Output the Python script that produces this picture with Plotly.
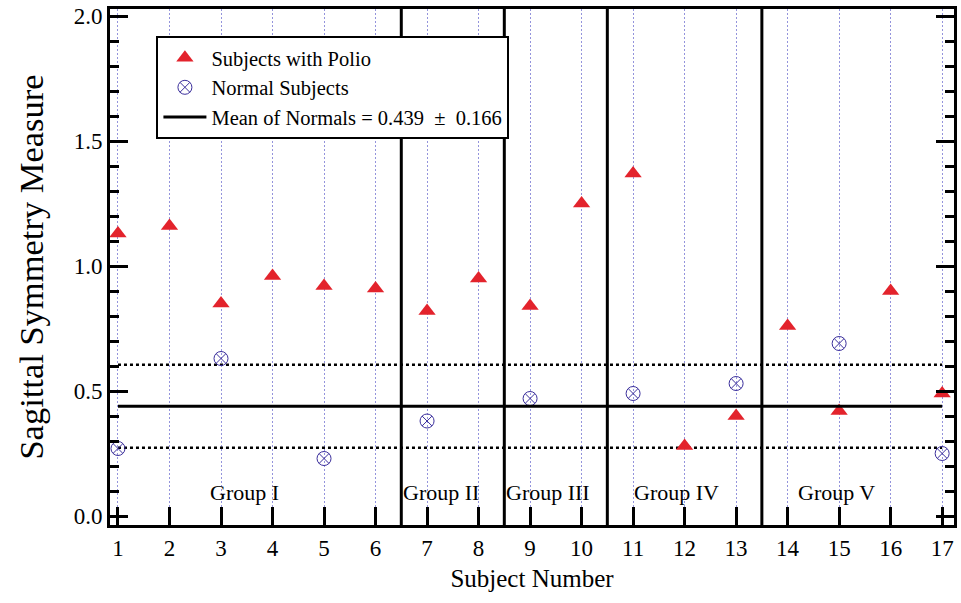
import plotly.graph_objects as go

subjects = list(range(1, 18))
polio = [1.13, 1.16, 0.85, 0.96, 0.92, 0.91, 0.82, 0.95, 0.84, 1.25, 1.37, 0.28, 0.40, 0.76, 0.42, 0.90, 0.49]
normal_subjects = [1, 3, 5, 7, 9, 11, 13, 15, 17]
normal_vals = [0.27, 0.63, 0.23, 0.38, 0.47, 0.49, 0.53, 0.69, 0.25]
mean_normals = 0.439
sd_normals = 0.166
group_bounds = [6.5, 8.5, 10.5, 13.5]
group_names = ["Group I", "Group II", "Group III", "Group IV", "Group V"]
group_label_x = [3.45, 7.27, 9.34, 11.85, 14.95]
group_label_y = 0.095
y_major = [0, 0.5, 1.0, 1.5, 2.0]
y_major_text = ["0.0", "0.5", "1.0", "1.5", "2.0"]
y_minor = [i / 10 for i in range(21) if i % 5]

FONT = "Liberation Serif"
RED = "#e3232c"
BLUE = "#3b2f9c"

fig = go.Figure()

# group separators
for gb in group_bounds:
    fig.add_shape(type="line", x0=gb, x1=gb, y0=0, y1=1, xref="x", yref="paper",
                  line=dict(color="black", width=3))

# dotted +/- SD lines
for v in [mean_normals + sd_normals, mean_normals - sd_normals]:
    fig.add_trace(go.Scatter(x=[subjects[0], subjects[-1]], y=[v, v], mode="lines",
                             line=dict(color="black", width=2.5, dash="dot"),
                             showlegend=False, hoverinfo="skip"))

fig.add_trace(go.Scatter(x=subjects, y=polio, mode="markers", name="Subjects with Polio",
                         marker=dict(symbol="triangle-up", size=15, color=RED)))
fig.add_trace(go.Scatter(x=normal_subjects, y=normal_vals, mode="markers", name="Normal Subjects",
                         marker=dict(symbol="circle-x-open", size=14, color=BLUE,
                                     line=dict(width=1, color=BLUE))))
fig.add_trace(go.Scatter(x=[subjects[0], subjects[-1]], y=[mean_normals, mean_normals], mode="lines",
                         name="Mean of Normals = %.3f  \u00b1  %.3f" % (mean_normals, sd_normals),
                         line=dict(color="black", width=3)))

for name, gx in zip(group_names, group_label_x):
    fig.add_annotation(x=gx, y=group_label_y, text=name, showarrow=False,
                       font=dict(family=FONT, size=22, color="black"))

fig.update_layout(
    width=961, height=603,
    margin=dict(l=110, r=4, t=4, b=78),
    plot_bgcolor="white", paper_bgcolor="white",
    font=dict(family=FONT, size=23, color="black"),
    showlegend=True,
    legend=dict(x=0.055, y=0.948, xanchor="left", yanchor="top",
                bgcolor="white", bordercolor="black", borderwidth=2,
                font=dict(family=FONT, size=20.5, color="black"),
                tracegroupgap=0, itemwidth=43),
    xaxis=dict(range=[0.845, 17.23], tickmode="array", tickvals=subjects,
               ticks="inside", ticklen=18, tickwidth=2.5, tickcolor="black",
               showline=True, linecolor="black", linewidth=3, mirror=True,
               showgrid=True, gridcolor="#9494dc", griddash="2px,2px", gridwidth=1,
               zeroline=False,
               title=dict(text="Subject Number", font=dict(family=FONT, size=25), standoff=10),
               tickfont=dict(family=FONT, size=23)),
    yaxis=dict(range=[-0.036, 2.028], tickmode="array", tickvals=y_major,
               ticktext=y_major_text,
               ticks="inside", ticklen=18, tickwidth=2.5, tickcolor="black",
               minor=dict(tickmode="array", tickvals=y_minor,
                          ticks="inside", ticklen=9, tickwidth=2.5, tickcolor="black", showgrid=False),
               showline=True, linecolor="black", linewidth=3, mirror="allticks",
               showgrid=False, zeroline=False,
               title=dict(text="Sagittal Symmetry Measure", font=dict(family=FONT, size=34.5), standoff=20),
               tickfont=dict(family=FONT, size=23)),
)

fig.write_html("out.html", config={"displayModeBar": False},
               post_script="document.body.style.margin='0px';document.body.style.overflow='hidden';")
